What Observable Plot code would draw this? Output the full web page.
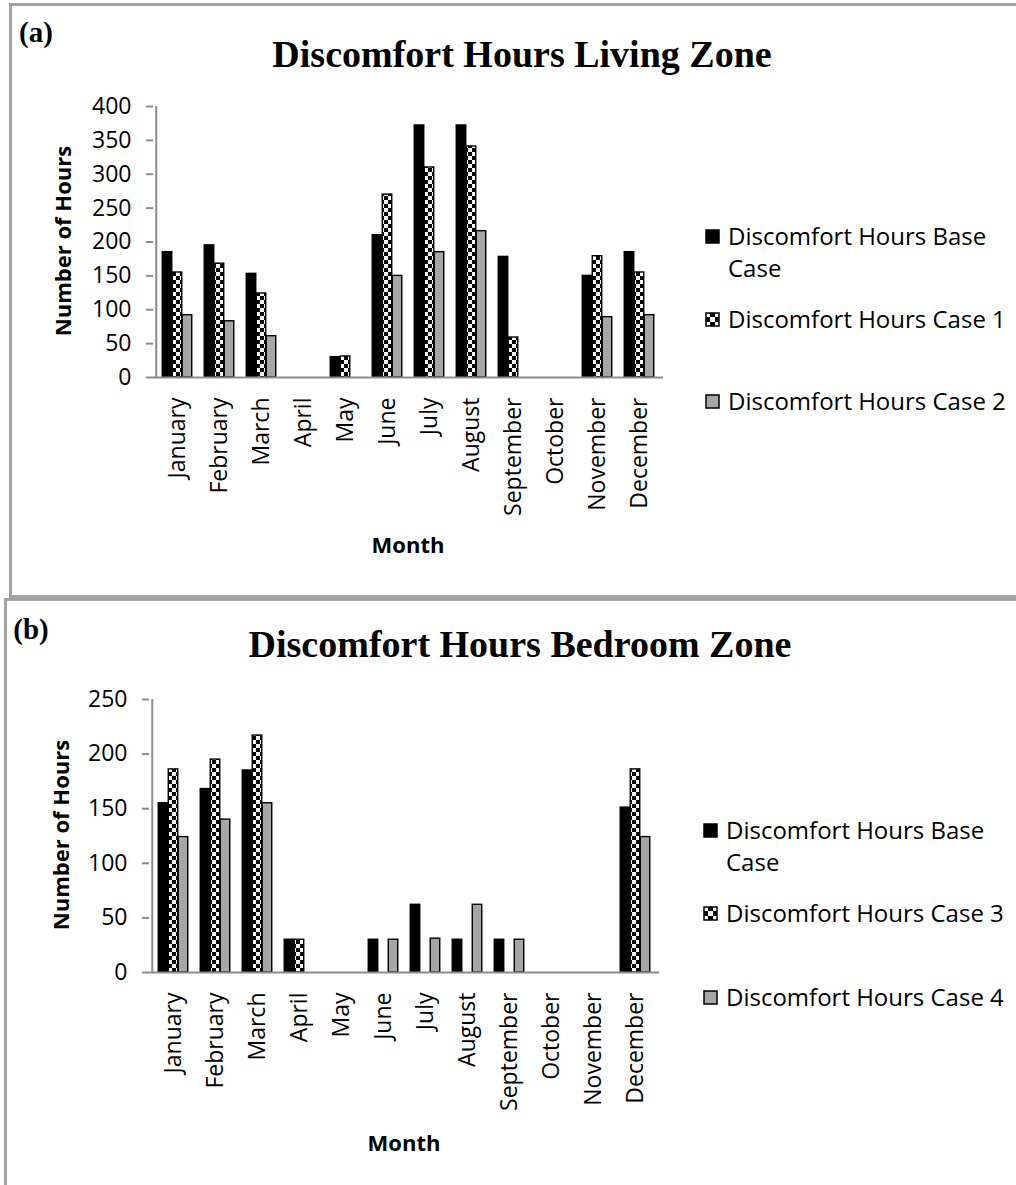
<!DOCTYPE html>
<html>
<head>
<meta charset="utf-8">
<script src="https://cdn.jsdelivr.net/npm/d3@7"></script>
<script src="https://cdn.jsdelivr.net/npm/@observablehq/plot@0.6"></script>
<style>
  body { margin: 0; background: #fff; }
  #page { position: relative; width: 1016px; height: 1185px; overflow: hidden; font-family: "Open Sans", sans-serif; color: #000; }
  .panel { position: absolute; border: 3px solid #a3a3a3; box-sizing: border-box; }
  .serif { position: absolute; font-family: "Liberation Serif", "Times New Roman", serif; font-weight: bold; white-space: nowrap; transform: translate(-50%, -50%); }
  .title { font-size: 38px; }
  .tag { font-size: 29px; }
  .axis-title { position: absolute; font-weight: bold; font-size: 22px; white-space: nowrap; transform: translate(-50%, -50%); }
  .axis-title.rot { transform: translate(-50%, -50%) rotate(-90deg); }
  .legend-item { position: absolute; font-size: 24px; line-height: 32px; white-space: nowrap; }
  .legend-item svg { position: absolute; left: -23px; top: 9px; }
  svg.plot { position: absolute; left: 0; }
</style>
</head>
<body>
<div id="page"></div>
<script>
// Months on the category axis
const months = ["January", "February", "March", "April", "May", "June",
  "July", "August", "September", "October", "November", "December"];

// (a) Living zone, discomfort hours per month
const livingSeries = ["Discomfort Hours Base Case", "Discomfort Hours Case 1", "Discomfort Hours Case 2"];
const livingBase  = [185, 195, 153, 0, 30, 210, 372, 372, 178, 0, 150, 185];
const livingCase1 = [155, 168, 124, 0, 31, 270, 310, 341, 59, 0, 179, 155];
const livingCase2 = [92, 83, 61, 0, 0, 150, 185, 216, 0, 0, 89, 92];

// (b) Bedroom zone, discomfort hours per month
const bedroomSeries = ["Discomfort Hours Base Case", "Discomfort Hours Case 3", "Discomfort Hours Case 4"];
const bedroomBase  = [155, 168, 185, 30, 0, 30, 62, 30, 30, 0, 0, 151];
const bedroomCase3 = [186, 195, 217, 30, 0, 0, 0, 0, 0, 0, 0, 186];
const bedroomCase4 = [124, 140, 155, 0, 0, 30, 31, 62, 30, 0, 0, 124];

const yTicksLiving = [0, 50, 100, 150, 200, 250, 300, 350, 400];
const yTicksBedroom = [0, 50, 100, 150, 200, 250];

const page = document.getElementById("page");
const SVGNS = "http://www.w3.org/2000/svg";
const GREY_FILL = "#a6a6a6";
const AXIS_GREY = "#8c8c8c";

function el(tag, cls, text, style) {
  const e = document.createElement(tag);
  if (cls) e.className = cls;
  if (text != null) e.innerHTML = text;
  Object.assign(e.style, style || {});
  page.appendChild(e);
  return e;
}

// checkerboard fill used for the middle series
function checkPattern(id, cell) {
  const p = document.createElementNS(SVGNS, "pattern");
  p.setAttribute("id", id);
  p.setAttribute("patternUnits", "userSpaceOnUse");
  p.setAttribute("width", 2 * cell);
  p.setAttribute("height", 2 * cell);
  const bg = document.createElementNS(SVGNS, "rect");
  bg.setAttribute("width", 2 * cell); bg.setAttribute("height", 2 * cell); bg.setAttribute("fill", "#000");
  p.appendChild(bg);
  for (const [x, y] of [[0, 0], [cell, cell]]) {
    const r = document.createElementNS(SVGNS, "rect");
    r.setAttribute("x", x); r.setAttribute("y", y);
    r.setAttribute("width", cell); r.setAttribute("height", cell);
    r.setAttribute("fill", "#fff");
    p.appendChild(r);
  }
  return p;
}

function swatch(fill, patternId) {
  const s = document.createElementNS(SVGNS, "svg");
  s.setAttribute("width", 15); s.setAttribute("height", 15);
  if (patternId) {
    const defs = document.createElementNS(SVGNS, "defs");
    defs.appendChild(checkPattern(patternId, 5));
    s.appendChild(defs);
  }
  const r = document.createElementNS(SVGNS, "rect");
  r.setAttribute("x", 1); r.setAttribute("y", 1); r.setAttribute("width", 13); r.setAttribute("height", 13);
  r.setAttribute("fill", patternId ? `url(#${patternId})` : fill);
  r.setAttribute("stroke", "#000"); r.setAttribute("stroke-width", 1.5);
  s.appendChild(r);
  return s;
}

function drawPanel(cfg) {
  const { key, series, values, yMax, yTicks, svgTop, svgHeight, plotTop, plotBottom, plotLeft } = cfg;
  const svgWidth = 700;
  const plotWidth = 510;
  const bw = plotWidth / months.length;
  const barW = 10;
  const pad = (bw - series.length * barW) / 2;
  const patId = "checks-" + key;
  const fills = ["#000", `url(#${patId})`, GREY_FILL];

  const rows = series.flatMap((s, i) => months.map((m, j) => ({ month: m, series: s, value: values[i][j] })));

  const chart = Plot.plot({
    width: svgWidth,
    height: svgHeight,
    marginLeft: plotLeft,
    marginRight: svgWidth - plotLeft - plotWidth,
    marginTop: plotTop - svgTop,
    marginBottom: svgHeight - (plotBottom - svgTop),
    style: { fontFamily: "Open Sans, sans-serif", fontSize: "23px", color: "#000", background: "transparent", overflow: "visible" },
    x: { domain: months, padding: 0, label: null },
    y: { domain: [0, yMax], label: null },
    marks: [
      () => {
        const defs = document.createElementNS(SVGNS, "defs");
        defs.appendChild(checkPattern(patId, 4));
        return defs;
      },
      ...series.map((s, i) => Plot.barY(rows.filter(d => d.series === s && d.value > 0), {
        x: "month", y: "value",
        fill: fills[i], stroke: "#000", strokeWidth: 1.4,
        insetLeft: pad + i * barW,
        insetRight: bw - pad - (i + 1) * barW
      })),
      Plot.ruleY([0], { stroke: AXIS_GREY, strokeWidth: 2 }),
      Plot.ruleX([months[0]], { dx: -bw / 2, y1: 0, y2: yMax, stroke: AXIS_GREY, strokeWidth: 2 }),
      Plot.axisY({ ticks: yTicks, tickSize: 7, tickPadding: 15, stroke: AXIS_GREY, strokeWidth: 2, fill: "#000", label: null }),
      Plot.axisX({ tickSize: 0, tickRotate: -90, tickPadding: 20, fill: "#000", label: null })
    ]
  });
  chart.classList.add("plot");
  chart.style.top = svgTop + "px";
  page.appendChild(chart);
}

// panel frames
el("div", "panel", null, { left: "9px", top: "3px", width: "1020px", height: "595px" });
el("div", "panel", null, { left: "4px", top: "598px", width: "1025px", height: "600px" });

// (a) Living zone
el("div", "serif tag", "(a)", { left: "36px", top: "32px" });
el("div", "serif title", "Discomfort Hours Living Zone", { left: "522px", top: "54px" });
el("div", "axis-title rot", "Number of Hours", { left: "62px", top: "241px" });
el("div", "axis-title", "Month", { left: "408px", top: "544px" });
drawPanel({
  key: "a", series: livingSeries, values: [livingBase, livingCase1, livingCase2],
  yMax: 400, yTicks: yTicksLiving,
  svgTop: 0, svgHeight: 580, plotTop: 106, plotBottom: 377, plotLeft: 153
});
[
  { text: "Discomfort Hours Base<br>Case", y: 236, fill: "#000" },
  { text: "Discomfort Hours Case 1", y: 319, pattern: "leg-a1" },
  { text: "Discomfort Hours Case 2", y: 401, fill: GREY_FILL }
].forEach(d => {
  const item = el("div", "legend-item", d.text, { left: "728px", top: (d.y - 16) + "px" });
  item.appendChild(swatch(d.fill, d.pattern));
});

// (b) Bedroom zone
el("div", "serif tag", "(b)", { left: "31px", top: "629px" });
el("div", "serif title", "Discomfort Hours Bedroom Zone", { left: "520px", top: "644px" });
el("div", "axis-title rot", "Number of Hours", { left: "60px", top: "835px" });
el("div", "axis-title", "Month", { left: "404px", top: "1142px" });
drawPanel({
  key: "b", series: bedroomSeries, values: [bedroomBase, bedroomCase3, bedroomCase4],
  yMax: 250, yTicks: yTicksBedroom,
  svgTop: 600, svgHeight: 585, plotTop: 699, plotBottom: 972, plotLeft: 149
});
[
  { text: "Discomfort Hours Base<br>Case", y: 830, fill: "#000" },
  { text: "Discomfort Hours Case 3", y: 913, pattern: "leg-b1" },
  { text: "Discomfort Hours Case 4", y: 997, fill: GREY_FILL }
].forEach(d => {
  const item = el("div", "legend-item", d.text, { left: "726px", top: (d.y - 16) + "px" });
  item.appendChild(swatch(d.fill, d.pattern));
});
</script>
</body>
</html>
